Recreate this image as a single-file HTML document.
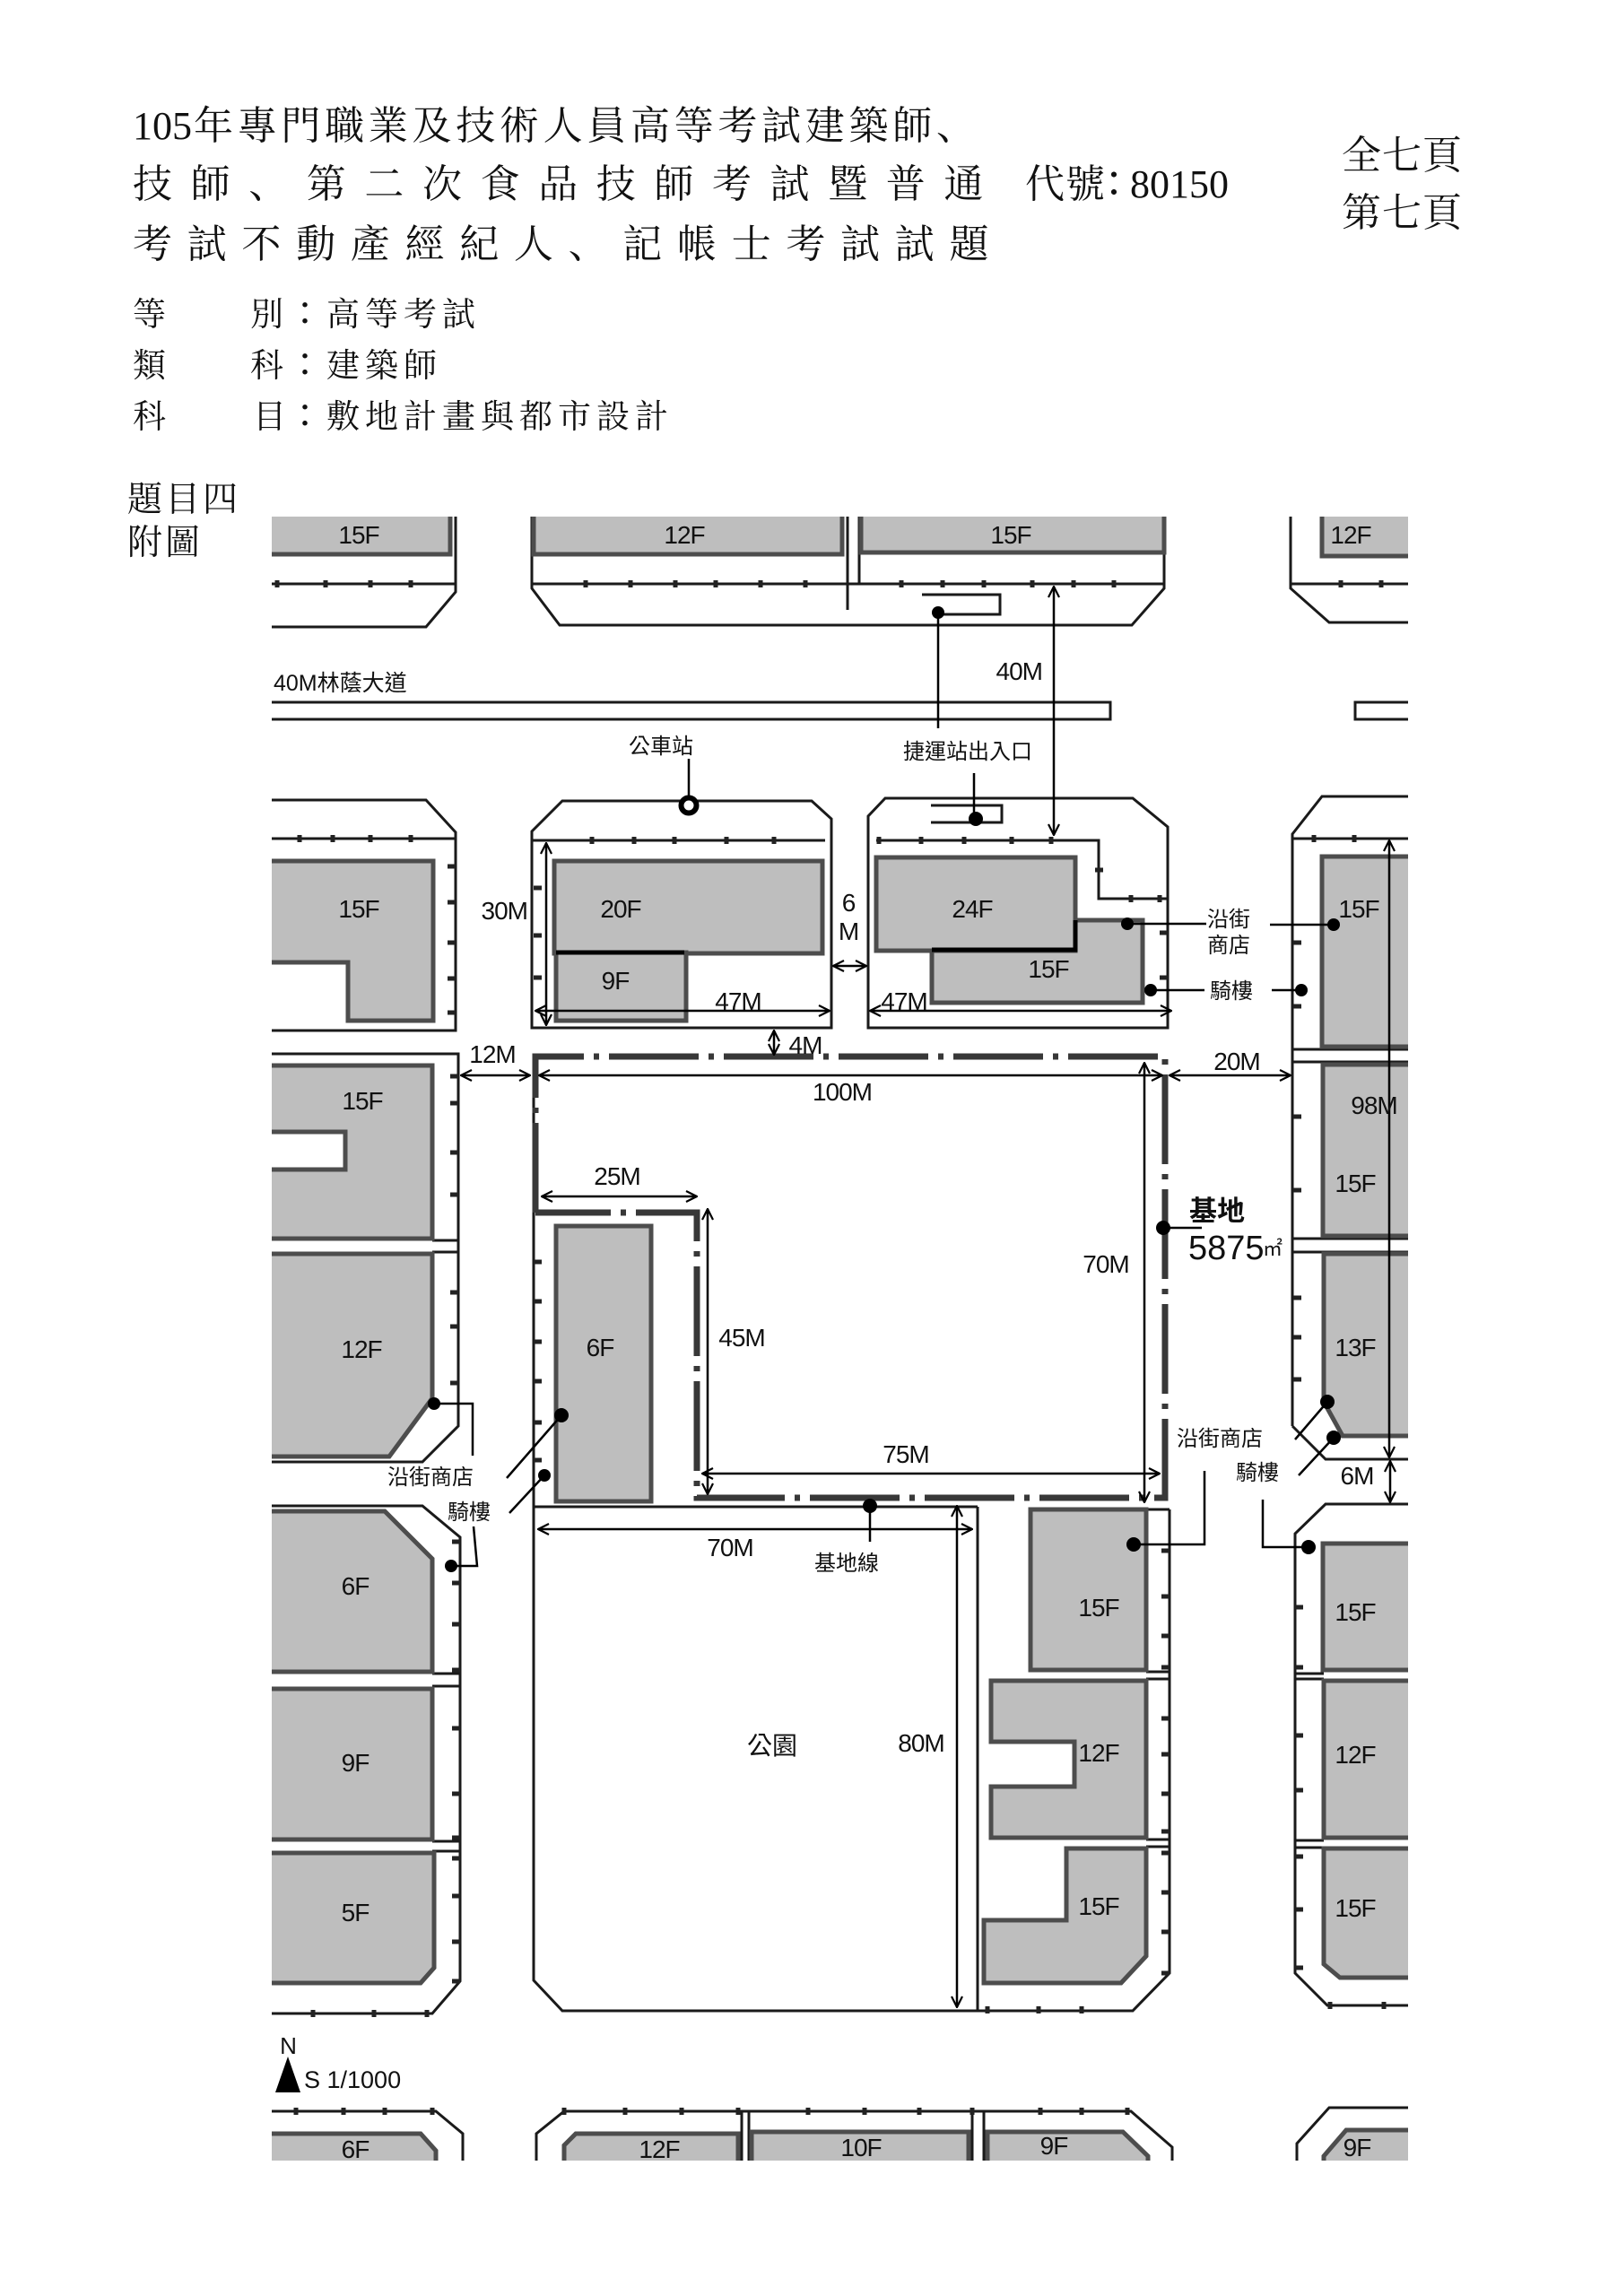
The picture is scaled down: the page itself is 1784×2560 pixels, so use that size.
<!DOCTYPE html>
<html><head><meta charset="utf-8"><style>
html,body{margin:0;padding:0;background:#fff;}
svg{display:block;}
.h{font-family:"Liberation Serif","Noto Serif CJK SC",serif;fill:#111;}
.hc{font-family:"Noto Sans CJK TC",sans-serif;fill:#111;}
.m{font-family:"Liberation Sans","Noto Sans CJK TC",sans-serif;font-size:28px;fill:#111;text-anchor:middle;letter-spacing:-1px;}
.c{font-family:"Liberation Sans","Noto Sans CJK TC",sans-serif;font-size:24px;fill:#111;text-anchor:middle;}
.b{fill:#bebebe;stroke:#4d4d4d;stroke-width:5;}
.l{fill:none;stroke:#1a1a1a;stroke-width:3;}
.k{fill:none;stroke:#222;stroke-width:5;}
.a{fill:none;stroke:#000;stroke-width:2.5;marker-start:url(#ar);marker-end:url(#ar);}
.d{fill:none;stroke:#000;stroke-width:2.5;}
</style></head><body>
<svg width="1784" height="2560" viewBox="0 0 1784 2560" xmlns="http://www.w3.org/2000/svg">
<defs>
<marker id="ar" viewBox="0 0 14 14" refX="13" refY="7" markerWidth="14" markerHeight="14" markerUnits="userSpaceOnUse" orient="auto-start-reverse"><path d="M1,1 L13,7 L1,13" fill="none" stroke="#000" stroke-width="2.2"/></marker>
<clipPath id="cp"><rect x="303" y="576" width="1267" height="1833"/></clipPath>
</defs>
<rect width="1784" height="2560" fill="#fff"/>

<!-- Header -->
<text class="h" x="148" y="155" font-size="44">105</text>
<text class="h" x="216" y="155" font-size="44" letter-spacing="4.7">年專門職業及技術人員高等考試建築師、</text>
<text class="h" x="148" y="220" font-size="44" letter-spacing="20.6">技師、第二次食品技師考試暨普通</text>
<text class="h" x="1143" y="220" font-size="44" letter-spacing="1">代號</text>
<text class="hc" x="1222" y="219" font-size="40">：</text>
<text class="h" x="1260" y="220" font-size="44">80150</text>
<text class="h" x="148" y="287" font-size="44" letter-spacing="16.7">考試不動產經紀人、記帳士考試試題</text>
<text class="h" x="1496" y="188" font-size="44" letter-spacing="1">全七頁</text>
<text class="h" x="1496" y="252" font-size="44" letter-spacing="1">第七頁</text>

<text class="h" x="148" y="363" font-size="37">等</text>
<text class="h" x="279" y="363" font-size="37">別</text>
<text class="hc" x="322" y="362" font-size="36">：</text>
<text class="h" x="364" y="363" font-size="37" letter-spacing="6">高等考試</text>
<text class="h" x="148" y="420" font-size="37">類</text>
<text class="h" x="279" y="420" font-size="37">科</text>
<text class="hc" x="322" y="419" font-size="36">：</text>
<text class="h" x="364" y="420" font-size="37" letter-spacing="6">建築師</text>
<text class="h" x="148" y="477" font-size="37">科</text>
<text class="h" x="282" y="477" font-size="37">目</text>
<text class="hc" x="322" y="476" font-size="36">：</text>
<text class="h" x="364" y="477" font-size="37" letter-spacing="6">敷地計畫與都市設計</text>

<text class="h" x="142" y="570" font-size="39" letter-spacing="3">題目四</text>
<text class="h" x="142" y="618" font-size="39" letter-spacing="3">附圖</text>

<g clip-path="url(#cp)">
<!-- Top row -->
<path class="l" d="M280,651 H508 M508,565 V660 L475,699 H280"/>
<rect class="b" x="280" y="565" width="222" height="53"/>
<path class="l" d="M593,565 V656 L624,697 H1262 L1298,656 V565 M593,651 H1298 M945,565 V680 M958,565 V651"/>
<rect class="b" x="595" y="565" width="344" height="53"/>
<rect class="b" x="960" y="565" width="338" height="51"/>
<path class="l" stroke-width="4" d="M1028,663 H1115 V685 H1046"/>
<path class="l" d="M1439,565 V656 L1482,694 H1600 M1439,651 H1600"/>
<rect class="b" x="1474" y="565" width="120" height="55"/>

<!-- Median -->
<path class="l" stroke-width="3.5" d="M280,783 H1238 V802 H280"/>
<path class="l" stroke-width="3.5" d="M1600,783 H1511 V802 H1600"/>

<!-- Row 2 left -->
<path class="l" d="M280,892 H475 L508,928 V1149 H280 M280,935 H508"/>
<path class="b" d="M280,960 H483 V1138 H388 V1073 H280 Z"/>

<!-- Row 2 middle -->
<path class="l" d="M593,1146 V927 L627,893 H905 L927,913 V1146 Z M593,937 H920"/>
<rect class="b" x="618" y="960" width="299" height="103"/>
<rect class="b" x="620" y="1062" width="145" height="76"/>
<path d="M620,1062 H763" stroke="#000" stroke-width="5"/>

<!-- Row 2 right-middle -->
<path class="l" d="M968,1146 V910 L987,890 H1263 L1302,922 V1146 Z M977,937 H1225 V1002 H1302"/>
<rect class="b" x="977" y="956" width="222" height="104"/>
<path class="b" d="M1199,1026 H1274 V1118 H1039 V1060 H1199 Z"/>
<path d="M1039,1059 H1199 V1026" stroke="#000" stroke-width="5" fill="none"/>
<path class="l" stroke-width="4" d="M1038,898 H1117 V917 H1038"/>

<!-- Right column upper -->
<path class="l" d="M1441,1590 V930 L1474,888 H1600 M1441,935 H1600 M1441,1170 H1600 M1441,1184 H1600 M1442,1381 H1600 M1442,1396 H1600 M1441,1590 L1478,1627 H1600"/>
<rect class="b" x="1474" y="955" width="120" height="212"/>
<rect class="b" x="1475" y="1187" width="120" height="191"/>
<path class="b" d="M1476,1398 H1600 V1601 H1497 L1476,1563 Z"/>

<!-- Left column row 3 -->
<path class="l" d="M280,1175 H511 V1590 L471,1630 H280 M482,1383 H511 M482,1396 H511"/>
<path class="b" d="M280,1188 H482 V1381 H280 V1304 H385 V1262 H280 Z"/>
<path class="b" d="M280,1398 H482 V1559 L434,1624 H280 Z"/>

<!-- Left column row 4 -->
<path class="l" d="M280,1679 H471 L513,1714 V2209 L482,2245 H280 M482,1866 H513 M482,1880 H513 M482,2053 H513 M482,2064 H513"/>
<path class="b" d="M280,1685 H429 L482,1738 V1864 H280 Z"/>
<rect class="b" x="280" y="1883" width="202" height="168"/>
<path class="b" d="M280,2066 H484 V2194 L469,2211 H280 Z"/>

<!-- Site & park -->
<path class="l" d="M595,1178 V2208 L627,2242 H1263 L1304,2200 V1683 M1090,1680 V2242 M595,1680 H1090 M1278,1683 H1304"/>
<path d="M597,1352 V1178 H1299 V1670 H777 V1352 H597" fill="none" stroke="#383838" stroke-width="7" stroke-dasharray="100 11 6 11"/>
<rect class="b" x="620" y="1367" width="106" height="307"/>

<!-- Right-bottom block -->
<path class="l" d="M1278,1864 H1304 M1278,1872 H1304 M1278,2051 H1304 M1278,2059 H1304"/>
<rect class="b" x="1149" y="1683" width="129" height="179"/>
<path class="b" d="M1105,1874 H1278 V2049 H1105 V1992 H1198 V1942 H1105 Z"/>
<path class="b" d="M1189,2061 H1278 V2181 L1250,2211 H1097 V2141 H1189 Z"/>

<!-- Right column lower -->
<path class="l" d="M1600,1677 H1478 L1444,1710 V2200 L1480,2236 H1600 M1444,1866 H1476 M1444,1872 H1476 M1444,2052 H1476 M1444,2060 H1476"/>
<rect class="b" x="1475" y="1721" width="120" height="141"/>
<rect class="b" x="1476" y="1874" width="120" height="175"/>
<path class="b" d="M1476,2061 H1600 V2205 H1494 L1476,2190 Z"/>

<!-- Bottom row -->
<path class="l" d="M280,2354 H486 L516,2379 V2420"/>
<path class="b" d="M280,2379 H469 L486,2398 V2430 H280 Z"/>
<path class="l" d="M598,2420 V2379 L629,2354 H1261 L1307,2394 V2420 M827,2354 V2420 M835,2354 V2420 M1084,2354 V2420 M1097,2354 V2420"/>
<path class="b" d="M629,2430 V2392 L642,2379 H823 V2430 Z"/>
<rect class="b" x="838" y="2377" width="242" height="60"/>
<path class="b" d="M1101,2377 H1252 L1280,2404 V2430 H1101 Z"/>
<path class="l" d="M1600,2350 H1482 L1446,2390 V2420"/>
<path class="b" d="M1600,2375 H1501 L1476,2404 V2430 H1600 Z"/>

<!-- Ticks on horizontal lines -->
<path class="k" d="M309,647v8M363,647v8M413,647v8M458,647v8M653,647v8M703,647v8M753,647v8M798,647v8M848,647v8M898,647v8M1005,647v8M1051,647v8M1097,647v8M1151,647v8M1197,647v8M1242,647v8M1495,647v8M1540,647v8
M334,931v8M371,931v8M413,931v8M458,931v8
M660,933v8M707,933v8M752,933v8M810,933v8M863,933v8
M980,933v8M1027,933v8M1075,933v8M1128,933v8M1172,933v8
M1261,998v8M1293,998v8
M1465,931v8M1510,931v8
M349,2241v8M417,2241v8M476,2241v8
M1101,2237v8M1158,2237v8M1206,2237v8
M1483,2232v8M1543,2232v8
M330,2350v8M383,2350v8M429,2350v8M482,2350v8M629,2350v8M697,2350v8M760,2350v8M823,2350v8M901,2350v8M964,2350v8M1025,2350v8M1084,2350v8M1160,2350v8M1206,2350v8M1257,2350v8"/>
<!-- Ticks on vertical lines -->
<path class="k" d="M499,966h9M499,1006h9M499,1051h9M499,1091h9M499,1129h9
M502,1200h9M502,1230h9M502,1285h9M502,1332h9M502,1441h9M502,1479h9M502,1542h9
M504,1719h9M504,1765h9M504,1811h9M504,1862h9M504,1927h9M504,2000h9M504,2049h9M504,2072h9M504,2114h9M504,2165h9M504,2209h9
M595,990h9M595,1043h9M595,1090h9M595,1407h9M595,1451h9M595,1496h9M595,1540h9M595,1586h9M595,1628h9
M1442,1051h9M1442,1122h9M1442,1245h9M1442,1327h9M1442,1447h9M1442,1491h9M1442,1538h9M1444,1792h9M1444,1859h9M1444,1935h9M1444,1996h9M1444,2070h9M1444,2129h9M1444,2194h9
M1295,1729h9M1295,1780h9M1295,1824h9M1295,1859h9M1295,1916h9M1295,1956h9M1295,2000h9M1295,2042h9M1295,2066h9M1295,2110h9M1295,2154h9M1295,2200h9
M1221,970h9M1293,1040h9M1293,1090h9"/>

<!-- Dimension arrows -->
<path class="a" d="M1175,654 V931"/>
<path class="a" d="M609,940 V1143"/>
<path class="a" d="M597,1127 H925"/>
<path class="a" d="M929,1077 H966"/>
<path class="a" d="M970,1127 H1306"/>
<path class="a" d="M863,1149 V1176"/>
<path class="a" d="M514,1199 H591"/>
<path class="a" d="M601,1199 H1296"/>
<path class="a" d="M1304,1199 H1439"/>
<path class="a" d="M1549,937 V1625"/>
<path class="a" d="M1550,1629 V1675"/>
<path class="a" d="M604,1334 H777"/>
<path class="a" d="M789,1348 V1666"/>
<path class="a" d="M783,1643 H1293"/>
<path class="a" d="M600,1705 H1084"/>
<path class="a" d="M1276,1185 V1675"/>
<path class="a" d="M1067,1679 V2238"/>

<!-- Leaders -->
<path class="d" d="M1046,683 V812 M1086,862 V913 M768,846 V889 M1257,1030 H1345 M1283,1104 H1343 M1416,1031 H1487 M1418,1104 H1451 M484,1565 H527 V1623 M528,1702 L532,1746 H503 M626,1578 L565,1648 M607,1645 L568,1687 M1297,1369 H1340 M970,1679 V1719 M1264,1722 H1343 V1640 M1459,1725 H1408 V1672 M1480,1563 L1444,1605 M1487,1603 L1448,1645"/>
<g fill="#000">
<circle cx="1046" cy="683" r="7"/><circle cx="1088" cy="913" r="8"/><circle cx="1257" cy="1030" r="7"/><circle cx="1283" cy="1104" r="7"/><circle cx="1487" cy="1031" r="7"/><circle cx="1451" cy="1104" r="7"/><circle cx="484" cy="1565" r="7"/><circle cx="503" cy="1746" r="7"/><circle cx="626" cy="1578" r="8"/><circle cx="607" cy="1645" r="7"/><circle cx="1297" cy="1369" r="8"/><circle cx="970" cy="1679" r="8"/><circle cx="1264" cy="1722" r="8"/><circle cx="1459" cy="1725" r="8"/><circle cx="1480" cy="1563" r="8"/><circle cx="1487" cy="1603" r="8"/>
</g>
<circle cx="768" cy="898" r="8.5" fill="#fff" stroke="#000" stroke-width="6"/>

<!-- Map labels -->
<text class="m" x="400" y="606">15F</text>
<text class="m" x="763" y="606">12F</text>
<text class="m" x="1127" y="606">15F</text>
<text class="m" x="1506" y="606">12F</text>
<text class="m" x="400" y="1023">15F</text>
<text class="m" x="588" y="1025" style="text-anchor:end">30M</text>
<text class="m" x="692" y="1023">20F</text>
<text class="m" x="686" y="1103">9F</text>
<text class="m" x="823" y="1126">47M</text>
<text class="m" x="946" y="1016">6</text>
<text class="m" x="946" y="1048">M</text>
<text class="m" x="1084" y="1023">24F</text>
<text class="m" x="1169" y="1090">15F</text>
<text class="m" x="1008" y="1126">47M</text>
<text class="m" x="1515" y="1023">15F</text>
<text class="m" x="549" y="1185">12M</text>
<text class="m" x="898" y="1175">4M</text>
<text class="m" x="1379" y="1193">20M</text>
<text class="m" x="939" y="1227">100M</text>
<text class="m" x="404" y="1237">15F</text>
<text class="m" x="1532" y="1242">98M</text>
<text class="m" x="688" y="1321">25M</text>
<text class="m" x="1511" y="1329">15F</text>
<text class="m" x="1233" y="1419">70M</text>
<text class="m" x="403" y="1514">12F</text>
<text class="m" x="669" y="1512">6F</text>
<text class="m" x="827" y="1501">45M</text>
<text class="m" x="1511" y="1512">13F</text>
<text class="m" x="1010" y="1631">75M</text>
<text class="m" x="1513" y="1655">6M</text>
<text class="m" x="814" y="1735">70M</text>
<text class="m" x="396" y="1778">6F</text>
<text class="m" x="1225" y="1802">15F</text>
<text class="m" x="1511" y="1807">15F</text>
<text class="m" x="396" y="1975">9F</text>
<text class="m" x="1027" y="1953">80M</text>
<text class="m" x="1225" y="1964">12F</text>
<text class="m" x="1511" y="1966">12F</text>
<text class="m" x="396" y="2142">5F</text>
<text class="m" x="1225" y="2135">15F</text>
<text class="m" x="1511" y="2137">15F</text>
<text class="m" x="396" y="2406">6F</text>
<text class="m" x="735" y="2406">12F</text>
<text class="m" x="960" y="2404">10F</text>
<text class="m" x="1175" y="2402">9F</text>
<text class="m" x="1513" y="2404">9F</text>
<text class="m" x="1162" y="758" style="text-anchor:end">40M</text>
<text class="c" x="305" y="770" style="text-anchor:start;font-size:25px">40M林蔭大道</text>
<text class="c" x="737" y="840">公車站</text>
<text class="c" x="1079" y="846">捷運站出入口</text>
<text class="c" x="1370" y="1033">沿街</text>
<text class="c" x="1370" y="1062">商店</text>
<text class="c" x="1373" y="1113">騎樓</text>
<text class="c" x="480" y="1655">沿街商店</text>
<text class="c" x="523" y="1694">騎樓</text>
<text class="c" x="1360" y="1612">沿街商店</text>
<text class="c" x="1402" y="1650">騎樓</text>
<text class="c" x="944" y="1751">基地線</text>
<text class="c" x="861" y="1956" style="font-size:28px">公園</text>
<text class="c" x="1326" y="1361" style="text-anchor:start;font-size:31px;font-weight:700">基地</text>
<text class="c" x="1325" y="1404" style="text-anchor:start;font-size:38px">5875</text>
<text class="c" x="1408" y="1400" style="text-anchor:start;font-size:22px">㎡</text>

<!-- North / scale -->
<text class="m" x="321" y="2290" style="font-size:26px">N</text>
<path d="M307,2333 L321,2293 L335,2333 Z" fill="#000"/>
<text class="m" x="339" y="2328" style="text-anchor:start;font-size:27px;letter-spacing:0">S 1/1000</text>
</g>
</svg>
</body></html>
